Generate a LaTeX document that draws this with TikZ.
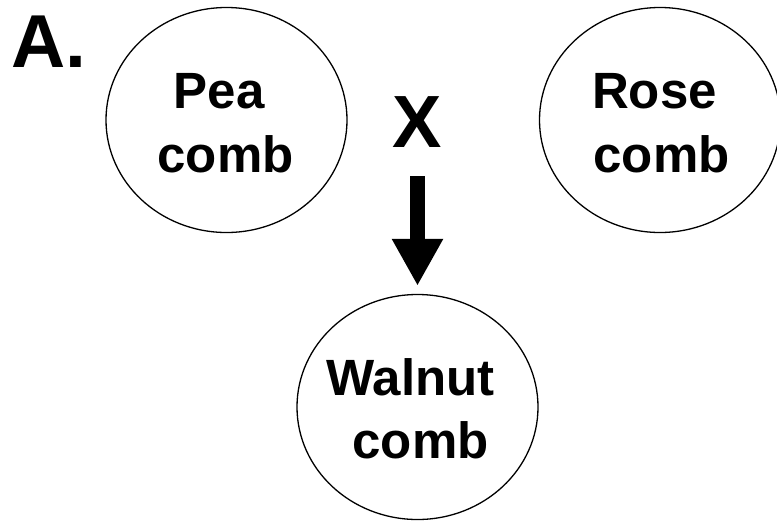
\documentclass[tikz,border=0pt]{standalone}
\usepackage{fontspec}
\setmainfont{Liberation Sans}
\usetikzlibrary{shapes.geometric,arrows.meta}
\tikzset{
  comb/.style={draw=black, line width=1.3pt, ellipse, inner sep=0pt,
    minimum width=241pt, minimum height=225pt},
  word/.style={anchor=base, inner sep=0pt, font=\fontsize{51}{51}\selectfont\bfseries},
  bigarrow/.style={line width=15pt, -{Triangle[width=48pt,length=47pt]}}
}
\begin{document}
\begin{tikzpicture}[x=1pt, y=-1pt]
  \useasboundingbox (0,0) rectangle (777,520);
  % panel letter and cross sign
  \node[anchor=base west, inner sep=0pt, font=\fontsize{75}{75}\selectfont\bfseries] (panel) at (11,67) {A.};
  \node[anchor=base, inner sep=0pt, font=\fontsize{74}{74}\selectfont\bfseries] (xsign) at (417.5,147) {X};
  % parent and offspring combs
  \node[comb] (pea) at (226.5,120) {};
  \node[comb] (rose) at (660,120) {};
  \node[comb] (walnut) at (417.5,407) {};
  \node[word] (peaA) at (219,108) {Pea};
  \node[word] (peaB) at (225.5,172) {comb};
  \node[word] (roseA) at (654.5,108) {Rose};
  \node[word] (roseB) at (661.5,172) {comb};
  \node[word] (walA) at (410.5,395) {Walnut};
  \node[word] (walB) at (420.5,458) {comb};
  % cross result arrow
  \draw[bigarrow] ([yshift=-29pt]xsign.base) -- ([yshift=8pt]walnut.north);
\end{tikzpicture}
\end{document}
